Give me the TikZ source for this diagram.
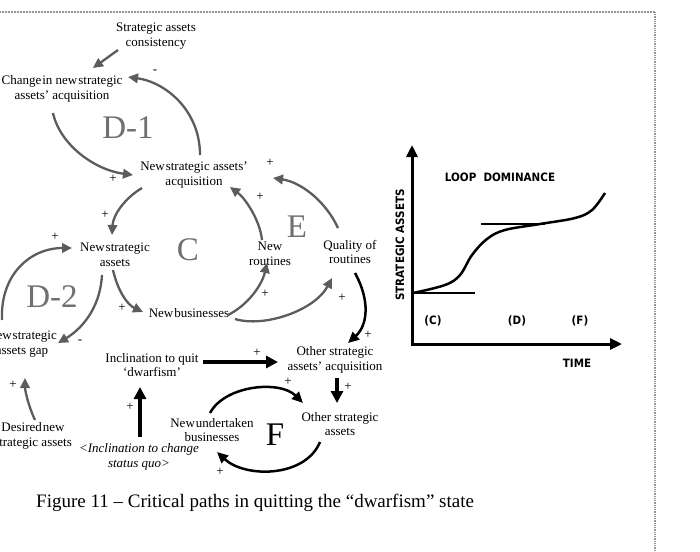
\documentclass[tikz,border=0pt]{standalone}
\usepackage{fontspec}
\setmainfont{Liberation Serif}
\newfontfamily\chartfont[FakeStretch=0.9]{DejaVu Sans}
\usetikzlibrary{arrows.meta}
\definecolor{arrgray}{RGB}{92,92,92}
\definecolor{loopgray}{RGB}{112,112,112}
\definecolor{edgegray}{RGB}{150,150,150}
\newcommand\tsp{\hspace{1pt}}
\begin{document}
\begin{tikzpicture}[x=1pt,y=-1pt,
  lbl/.style={font=\fontsize{13}{14.5}\selectfont, align=center, inner sep=0pt},
  sgn/.style={font=\fontsize{13}{13}\selectfont, inner sep=0pt},
  loopname/.style={font=\fontsize{33}{33}\selectfont, text=loopgray, inner sep=0pt},
  garr/.style={draw=arrgray, line width=2.3pt, -{Triangle[length=10pt,width=9.5pt]}},
  barr/.style={draw=black, line width=2.5pt, -{Triangle[length=11pt,width=10pt]}},
  bthick/.style={draw=black, line width=3.6pt, -{Triangle[length=12pt,width=12pt]}},
  chart/.style={font=\chartfont\bfseries\fontsize{11.5}{12}\selectfont, inner sep=0pt},
  axis/.style={line width=3pt},
  level/.style={line width=2.5pt},
]
\fill[white] (0,0) rectangle (700,551);
\useasboundingbox (0,0) rectangle (700,551);

% page frame
\draw[edgegray, line width=1.5pt, dash pattern=on 1pt off 0.5pt] (0,12) -- (655,12);
\draw[edgegray, line width=2.5pt, dash pattern=on 1pt off 0.8pt] (655,12) -- (655,551);

% ---- causal loop diagram: variables
\node[lbl] (sac)  at (156,36)  {Strategic assets\\consistency};
\node[lbl] (chg)  at (62,89)   {Change\tsp in new\tsp strategic\\assets’ acquisition};
\node[lbl] (nsaa) at (194,175) {New\tsp strategic assets’\\acquisition};
\node[lbl] (nsa)  at (115,255) {New\tsp strategic\\assets};
\node[lbl] (nb)   at (189,313) {New\tsp businesses};
\node[lbl] (nr)   at (270,254) {New\\routines};
\node[lbl] (qr)   at (350,252) {Quality of\\routines};
\node[lbl] (gap)  at (22,344)  {New\tsp strategic\\assets gap};
\node[lbl] (des)  at (33,436)  {Desired\tsp new\\strategic assets};
\node[lbl] (inc)  at (152,365) {Inclination to quit\\‘dwarfism’};
\node[lbl] (osaa) at (335,360) {Other strategic\\assets’ acquisition};
\node[lbl] (osa)  at (340,424) {Other strategic\\assets};
\node[lbl] (nub)  at (212,430) {New\tsp undertaken\\businesses};
\node[lbl, font=\itshape\fontsize{13}{14.5}\selectfont] (icsq) at (139,457) {<Inclination to change\\status quo>};

% ---- loop names
\node[loopname] (loopD1) at (128,128) {D-1};
\node[loopname] (loopC)  at (188,250) {C};
\node[loopname] (loopE)  at (297,227) {E};
\node[loopname] (loopD2) at (52,297)  {D-2};
\node[loopname, text=black] (loopF) at (275,435) {F};

% ---- gray links
\draw[garr] ([shift={(-38,14)}]sac.center) -- ([shift={(31,-21)}]chg.center);
\draw[garr] ([shift={(6,-20)}]nsaa.center) .. controls +(0,-45) and +(37,5) .. ([shift={(66,-12)}]chg.center);
\draw[garr] ([shift={(-9,24)}]chg.center) .. controls +(7,32) and +(-38,-5) .. ([shift={(-61,0)}]nsaa.center);
\draw[garr] ([shift={(-52,13)}]nsaa.center) .. controls +(-17,10) and +(1,-20) .. ([shift={(-3,-20)}]nsa.center);
\draw[garr] ([shift={(-8,-14)}]nr.center) .. controls +(-2,-20) and +(15,11) .. ([shift={(36,12)}]nsaa.center);
\draw[garr] ([shift={(-12,-24)}]qr.center) .. controls +(-13,-28) and +(27,4) .. ([shift={(79,3)}]nsaa.center);
\draw[garr] ([shift={(-2,15)}]nsa.center) .. controls +(5,22) and +(-15,-7) .. ([shift={(-46,-1)}]nb.center);
\draw[garr] ([shift={(39,2)}]nb.center) .. controls +(20,-10) and +(-5,22) .. ([shift={(-3,9)}]nr.center);
\draw[garr] ([shift={(46,6)}]nb.center) .. controls +(30,9) and +(-17,32) .. ([shift={(-18,26)}]qr.center);
\draw[garr] ([shift={(-20,-24)}]gap.center) .. controls +(-2,-45) and +(-42,0) .. ([shift={(-43,-7)}]nsa.center);
\draw[garr] ([shift={(-13,20)}]nsa.center) .. controls +(-2,35) and +(22,-13) .. ([shift={(36,-1)}]gap.center);
\draw[garr] ([shift={(2,-16)}]des.center) .. controls +(-7,-15) and +(0,12) .. ([shift={(3,34)}]gap.center);

% ---- black links
\draw[barr] ([shift={(5,21)}]qr.center) .. controls +(15,27) and +(20,-18) .. ([shift={(13,-17)}]osaa.center);
\draw[bthick] ([shift={(51,-3)}]inc.center) -- ([shift={(-57,2)}]osaa.center);
\draw[bthick] ([shift={(2,18)}]osaa.center) -- ([shift={(-3,-21)}]osa.center);
\draw[bthick] ([shift={(1,-20)}]icsq.center) -- ([shift={(-12,22)}]inc.center);
\draw[barr] ([shift={(-2,-17)}]nub.center) .. controls +(15,-28) and +(-23,-23) .. ([shift={(-37,-21)}]osa.center);
\draw[barr] ([shift={(-20,18)}]osa.center) .. controls +(-15,36) and +(28,26) .. ([shift={(5,22)}]nub.center);

% ---- link polarities
\node[sgn] (p1)  at (155,72)  {-};
\node[sgn] (p2)  at (113,179) {+};
\node[sgn] (p3)  at (270,163) {+};
\node[sgn] (p4)  at (260,197) {+};
\node[sgn] (p5)  at (105,215) {+};
\node[sgn] (p6)  at (122,308) {+};
\node[sgn] (p7)  at (265,294) {+};
\node[sgn] (p8)  at (342,298) {+};
\node[sgn] (p9)  at (368,335) {+};
\node[sgn] (p10) at (257,353) {+};
\node[sgn] (p11) at (348,387) {+};
\node[sgn] (p12) at (288,382) {+};
\node[sgn] (p13) at (220,472) {+};
\node[sgn] (p14) at (130,407) {+};
\node[sgn] (p15) at (55,237)  {+};
\node[sgn] (p16) at (80,342)  {-};
\node[sgn] (p17) at (13,385)  {+};

% ---- loop dominance chart
\coordinate (org)  at (412,344);
\coordinate (ytip) at (412,145);
\coordinate (xtip) at (622,344);
\draw[axis, {Triangle[length=12pt,width=11pt]}-{Triangle[length=12pt,width=11pt]}] (ytip) -- (org) -- (xtip);
\draw[level] (412,293) -- (475,293);
\draw[level] (481,224) -- (545,224);
\draw[level] plot[smooth, tension=0.6] coordinates {(413,293) (445,285) (460,275) (472,255) (487,239) (505,230) (540,224) (575,218) (592,210) (605,193)};
\node[chart] (ttl)  at (500,177) {LOOP\ \ DOMINANCE};
\node[chart, rotate=90] (ylab) at (400,245) {STRATEGIC ASSETS};
\node[chart] (phC)  at (433,321) {(C)};
\node[chart] (phD)  at (517,321) {(D)};
\node[chart] (phF)  at (580,321) {(F)};
\node[chart] (xlab) at (577,363) {TIME};

% ---- caption
\node[font=\fontsize{19}{20}\selectfont, anchor=west, inner sep=0pt] (cap) at (36,503) {Figure 11 – Critical paths in quitting the “dwarfism” state};
\end{tikzpicture}
\end{document}
